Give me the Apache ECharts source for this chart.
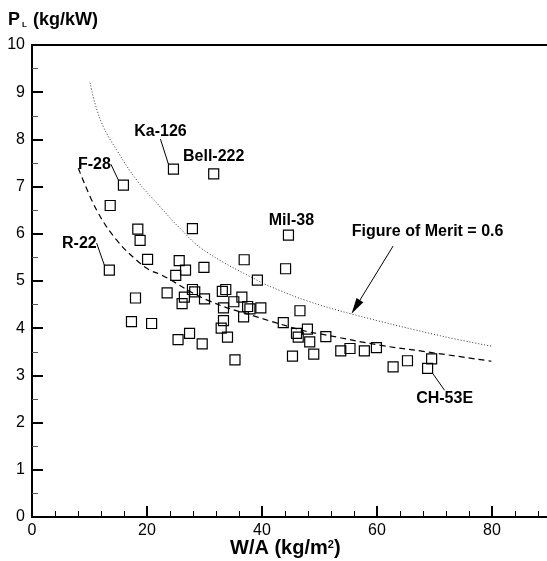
<!DOCTYPE html>
<html>
<head>
<meta charset="utf-8">
<script src="https://cdn.jsdelivr.net/npm/echarts@6/dist/echarts.min.js"></script>
<style>
  html, body { margin: 0; padding: 0; background: #fff; }
  #chart { width: 547px; height: 561px; }
</style>
</head>
<body>
<div id="chart"></div>
<script>
// Named rotorcraft: disc loading W/A (kg/m^2) and power loading P_L (kg/kW)
const namedCraft = ['Ka-126', 'Bell-222', 'F-28', 'R-22', 'Mil-38', 'CH-53E'];
const namedWA = [24.6, 31.6, 15.9, 13.45, 44.6, 68.8];
const namedPL = [7.37, 7.27, 7.03, 5.23, 5.97, 3.15];

// Remaining rotorcraft
const otherWA = [13.6, 18.4, 18.8, 27.9, 20.1, 25.6, 26.7, 29.9, 25.0, 36.9,
                 44.1, 39.2, 18.0, 23.5, 27.9, 28.3, 26.5, 26.1, 30.0, 33.1,
                 33.7, 36.5, 35.1, 37.5, 37.9, 39.8, 33.3, 36.8, 33.3, 32.9,
                 34.0, 27.4, 25.4, 29.6, 35.3, 17.3, 20.8, 43.7, 46.6, 46.0,
                 47.9, 46.3, 48.3, 51.1, 45.3, 49.0, 53.7, 55.3, 57.8, 59.9,
                 62.8, 65.3, 69.5];
const otherPL = [6.60, 6.10, 5.86, 6.11, 5.46, 5.43, 5.23, 5.29, 5.12, 5.45,
                 5.26, 5.02, 4.64, 4.75, 4.82, 4.77, 4.66, 4.52, 4.62, 4.78,
                 4.82, 4.66, 4.56, 4.46, 4.41, 4.43, 4.43, 4.24, 4.16, 4.00,
                 3.81, 3.89, 3.76, 3.67, 3.33, 4.14, 4.10, 4.12, 4.37, 3.89,
                 3.98, 3.81, 3.71, 3.82, 3.41, 3.45, 3.52, 3.57, 3.52, 3.59,
                 3.18, 3.31, 3.35];

// Trend line through the data (dashed)
const trendWA = [8.06, 11.25, 14.7, 18.2, 20.5, 22.5, 30.4, 39.1, 47.8, 50.1, 60.5, 68.6, 79.9];
const trendPL = [7.39, 6.50, 5.87, 5.44, 5.23, 5.13, 4.60, 4.24, 3.93, 3.88, 3.64, 3.50, 3.30];

// Ideal hover curve for a figure of merit of 0.6 (dotted)
const meritWA = [10.1, 10.96, 12.4, 14.7, 18.2, 22.3, 25.7, 29.8, 39.4, 43.1, 47.8, 55.6, 71.0, 79.9];
const meritPL = [9.20, 8.76, 8.27, 7.78, 7.14, 6.57, 6.12, 5.66, 5.00, 4.80, 4.58, 4.30, 3.84, 3.62];

const meritText = 'Figure of Merit = 0.6';
const xTicks = [0, 20, 40, 60, 80];
const yTicks = [0, 1, 2, 3, 4, 5, 6, 7, 8, 9, 10];

// Label placement (pixel offsets from each point) and leader-line flags
const labelOffsets = [[-13, -38], [0, -17], [-29, -21], [-30, -27], [3, -15], [17, 30]];
const labelLeaders = [true, false, true, true, false, true];

// Callout for the figure-of-merit curve, in data units
const calloutText = [68.8, 6.04];
const calloutFrom = [62.8, 5.74];
const calloutTo = [56.3, 4.45];

const FONT = "'Liberation Sans', Arial, Helvetica, sans-serif";

const chart = echarts.init(document.getElementById('chart'), null, { renderer: 'canvas' });

const squareStyle = {
  color: 'rgba(0,0,0,0)',
  borderColor: '#000',
  borderWidth: 1.2,
  opacity: 1
};

const boldLabel = {
  fontFamily: FONT,
  fontWeight: 'bold',
  fontSize: 16,
  color: '#000',
  opacity: 1,
  textBorderWidth: 0
};

chart.setOption({
  animation: false,
  backgroundColor: '#fff',
  textStyle: { fontFamily: FONT },
  title: [
    {
      text: '{p|P}{s|L}{p| (kg/kW)}',
      left: 8,
      top: 9,
      padding: 0,
      textStyle: {
        rich: {
          p: { fontFamily: FONT, fontWeight: 'bold', fontSize: 18, lineHeight: 22, color: '#000' },
          s: { fontFamily: FONT, fontSize: 8, lineHeight: 8, verticalAlign: 'bottom',
               padding: [0, 1, 2, 2], color: '#000' }
        }
      }
    },
    {
      text: '{a|W/A (kg/m}{b|2}{a|)}',
      left: 230,
      top: 536,
      padding: 0,
      textStyle: {
        rich: {
          a: { fontFamily: FONT, fontWeight: 'bold', fontSize: 20, lineHeight: 24, color: '#000' },
          b: { fontFamily: FONT, fontWeight: 'bold', fontSize: 11, lineHeight: 11,
               verticalAlign: 'top', padding: [3, 0, 0, 0], color: '#000' }
        }
      }
    }
  ],
  grid: {
    left: 32, top: 45, right: -60, bottom: 44,
    containLabel: false,
    outerBoundsMode: 'none'
  },
  xAxis: [
    {
      type: 'value',
      position: 'bottom',
      min: 0,
      max: 100,
      interval: 20,
      axisLine: { show: true, onZero: false, lineStyle: { color: '#000', width: 2 } },
      axisTick: { show: true, inside: true, length: 11, lineStyle: { color: '#000', width: 2 } },
      minorTick: { show: true, splitNumber: 5, length: 6, lineStyle: { color: '#000', width: 1 } },
      axisLabel: {
        color: '#000', fontSize: 16, fontFamily: FONT, margin: 6,
        formatter: v => (xTicks.indexOf(v) >= 0 ? String(v) : '')
      },
      splitLine: { show: false },
      minorSplitLine: { show: false }
    },
    {
      type: 'value',
      position: 'top',
      min: 0,
      max: 100,
      interval: 20,
      axisLine: { show: true, onZero: false, lineStyle: { color: '#000', width: 2 } },
      axisTick: { show: false },
      axisLabel: { show: false },
      splitLine: { show: false }
    }
  ],
  yAxis: {
    type: 'value',
    min: 0,
    max: 10,
    interval: 1,
    axisLine: { show: true, onZero: false, lineStyle: { color: '#000', width: 2 } },
    axisTick: { show: true, inside: true, length: 11, lineStyle: { color: '#000', width: 2 } },
    minorTick: { show: true, splitNumber: 2, length: 6, lineStyle: { color: '#555', width: 1 } },
    axisLabel: {
      color: '#000', fontSize: 16, fontFamily: FONT, margin: 7,
      formatter: v => (yTicks.indexOf(v) >= 0 ? String(v) : '')
    },
    splitLine: { show: false },
    minorSplitLine: { show: false }
  },
  series: [
    {
      name: 'Trend',
      type: 'line',
      data: trendWA.map((x, i) => [x, trendPL[i]]),
      showSymbol: false,
      smooth: 0.4,
      silent: true,
      lineStyle: { color: '#000', width: 1.2, type: [6, 4] },
      z: 2
    },
    {
      name: meritText,
      type: 'line',
      data: meritWA.map((x, i) => [x, meritPL[i]]),
      showSymbol: false,
      smooth: 0.4,
      silent: true,
      lineStyle: { color: '#333', width: 1, type: [1, 2] },
      z: 2,
      markLine: {
        silent: true,
        symbol: ['none', 'triangle'],
        symbolSize: [8, 16],
        lineStyle: { color: '#000', width: 1, type: 'solid' },
        itemStyle: { color: '#000' },
        label: { show: false },
        data: [[{ coord: calloutFrom }, { coord: calloutTo }]]
      },
      markPoint: {
        silent: true,
        symbol: 'circle',
        symbolSize: 0,
        label: Object.assign({ show: true, position: 'inside', formatter: meritText }, boldLabel),
        data: [{ coord: calloutText }]
      }
    },
    {
      name: 'Rotorcraft',
      type: 'scatter',
      data: otherWA.map((x, i) => [x, otherPL[i]]),
      symbol: 'rect',
      symbolSize: 10,
      itemStyle: squareStyle,
      z: 3
    },
    {
      name: 'Named rotorcraft',
      type: 'scatter',
      data: namedCraft.map((n, i) => ({
        name: n,
        value: [namedWA[i], namedPL[i]],
        labelLine: { show: labelLeaders[i] }
      })),
      symbol: 'rect',
      symbolSize: 10,
      itemStyle: squareStyle,
      label: Object.assign({ show: true, position: 'inside', formatter: '{b}' }, boldLabel),
      labelLine: { show: true, lineStyle: { color: '#000', width: 1, opacity: 1 } },
      labelLayout: params => {
        const o = labelOffsets[params.dataIndex];
        return { dx: o[0], dy: o[1] };
      },
      z: 3
    }
  ]
});
</script>
</body>
</html>
